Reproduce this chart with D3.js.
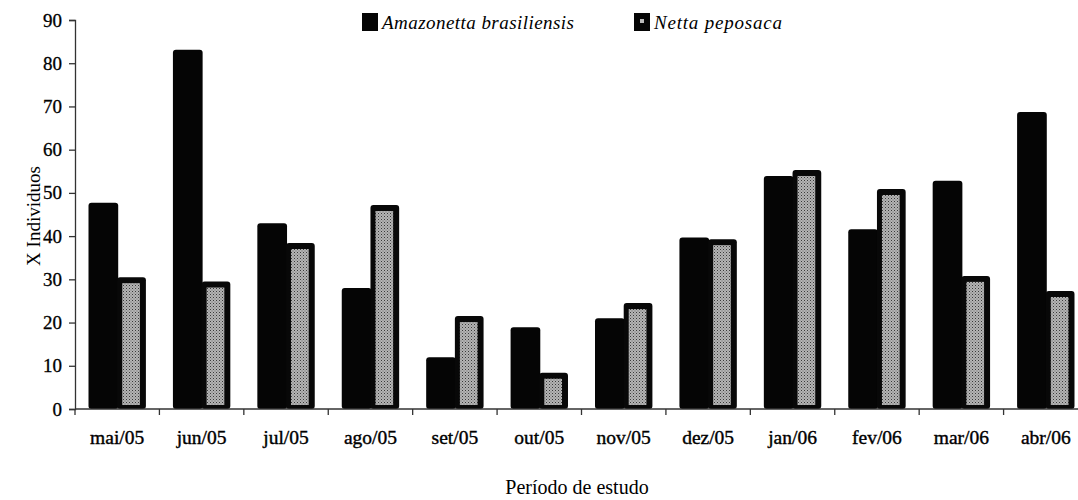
<!DOCTYPE html>
<html><head><meta charset="utf-8">
<script src="https://cdn.jsdelivr.net/npm/d3@7"></script>
<style>
html,body{margin:0;padding:0;background:#fff;}
svg{display:block;font-family:"Liberation Serif","Times New Roman",serif;}
</style></head>
<body>
<svg id="chart" width="1078" height="500"></svg>
<script>
const categories = ["mai/05","jun/05","jul/05","ago/05","set/05","out/05","nov/05","dez/05","jan/06","fev/06","mar/06","abr/06"];
const seriesNames = ["Amazonetta brasiliensis","Netta peposaca"];
const amazonetta = [47.7,83.1,43.0,28.0,12.0,18.9,21.0,39.7,53.9,41.6,52.8,68.7];
const netta = [30.5,29.5,38.4,47.2,21.5,8.4,24.5,39.3,55.3,50.9,30.8,27.3];
const yTicks = [0,10,20,30,40,50,60,70,80,90];

const svg = d3.select("#chart");
const mLeft = 75, mTop = 20, mBottom = 409, mRight = 1088;
const FONT = "Liberation Serif";

const defs = svg.append("defs");
const pat = defs.append("pattern").attr("id","grey").attr("patternUnits","userSpaceOnUse")
  .attr("width",3).attr("height",3);
pat.append("rect").attr("width",3).attr("height",3).attr("fill","#b4b4b4");
pat.append("rect").attr("x",0).attr("y",0).attr("width",1).attr("height",1).attr("fill","#3a3a3a");
pat.append("rect").attr("x",1.5).attr("y",1.5).attr("width",1).attr("height",1).attr("fill","#6a6a6a");

const x0 = d3.scaleBand().domain(categories).range([mLeft,mRight]).paddingInner(0.32).paddingOuter(0.16);
const x1 = d3.scaleBand().domain([0,1]).range([0,x0.bandwidth()]);
const y = d3.scaleLinear().domain([0,90]).range([mBottom,mTop]);

// bars
const g = svg.append("g");
categories.forEach((c,i)=>{
  const xa = x0(c)+x1(0), xb = x0(c)+x1(1), w = x1.bandwidth();
  g.append("rect").attr("x",xa).attr("y",y(amazonetta[i])).attr("width",w+1)
    .attr("height",mBottom-y(amazonetta[i])).attr("rx",3).attr("fill","#050505");
  g.append("rect").attr("x",xb).attr("y",y(netta[i])).attr("width",w)
    .attr("height",mBottom-y(netta[i])).attr("rx",3).attr("fill","#080808");
  const ih = mBottom-y(netta[i])-10;
  if (ih>0) g.append("rect").attr("x",xb+5).attr("y",y(netta[i])+6).attr("width",w-11)
    .attr("height",ih).attr("fill","url(#grey)");
});

// y axis
const yAxis = d3.axisLeft(y).tickValues(yTicks).tickSize(6).tickPadding(7).tickFormat(d3.format("d"));
const ya = svg.append("g").attr("transform",`translate(${mLeft},0)`).call(yAxis)
  .attr("font-family",FONT);
ya.select(".domain").attr("stroke","#333").attr("stroke-width",1.3);
ya.selectAll(".tick line").attr("stroke","#333").attr("stroke-width",1.3);
ya.selectAll("text").attr("font-size",19).attr("fill","#000").attr("stroke","#000").attr("stroke-width",0.3);

// x axis (ticks at category boundaries)
const xAx = svg.append("g").attr("transform",`translate(0,${mBottom})`).attr("font-family",FONT);
xAx.append("line").attr("x1",mLeft).attr("x2",mRight).attr("y1",0).attr("y2",0).attr("stroke","#333").attr("stroke-width",1.3);
categories.forEach((c,i)=>{
  const bx = x0(c) - x0.step()*x0.paddingOuter();
  xAx.append("line").attr("x1",bx).attr("x2",bx).attr("y1",0).attr("y2",6).attr("stroke","#333").attr("stroke-width",1.3);
  xAx.append("text").attr("x",x0(c)+x0.bandwidth()/2).attr("y",35).attr("text-anchor","middle")
    .attr("font-size",19.5).attr("stroke","#000").attr("stroke-width",0.4).text(c);
});

// titles
svg.append("text").attr("transform","translate(40,216) rotate(-90)").attr("text-anchor","middle")
  .attr("font-family",FONT).attr("font-size",19).text("X  Individuos");
svg.append("text").attr("x",577).attr("y",494).attr("text-anchor","middle")
  .attr("font-family",FONT).attr("font-size",20).text("Período de estudo");

// legend
const leg = svg.append("g").attr("font-family",FONT);
const legX = [362,634], legW = [192,128];
seriesNames.forEach((n,i)=>{
  leg.append("rect").attr("x",legX[i]).attr("y",13).attr("width",16).attr("height",18).attr("fill","#050505");
  if (i===1) leg.append("rect").attr("x",legX[i]+6).attr("y",19).attr("width",4).attr("height",4).attr("fill","#bbb");
  leg.append("text").attr("x",legX[i]+20).attr("y",29).attr("font-size",19).attr("font-style","italic")
    .attr("textLength",legW[i]).attr("lengthAdjust","spacing").text(n);
});
</script>
</body></html>
